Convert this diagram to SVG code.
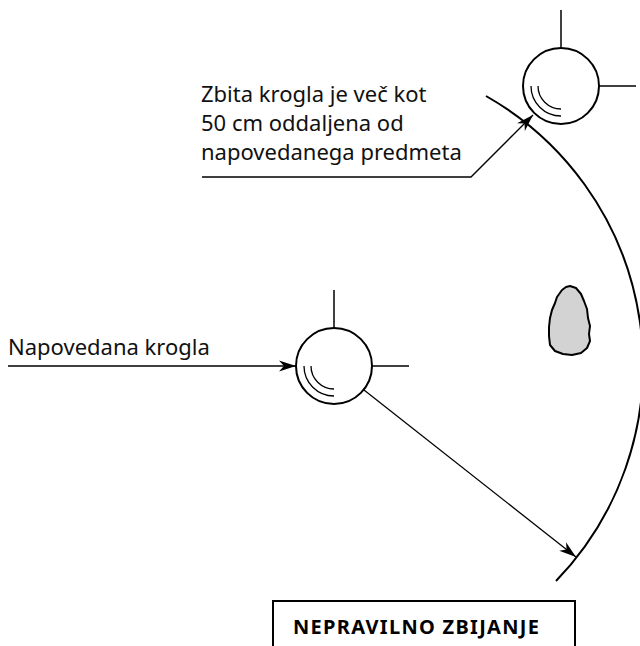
<svg xmlns="http://www.w3.org/2000/svg" width="640" height="646" viewBox="0 0 640 646">
  <defs>
    <style>
      .lbl { font-family: "Noto Sans", "Liberation Sans", sans-serif; font-size: 22px; fill: #111; }
      .title { font-family: "Noto Sans", "Liberation Sans", sans-serif; font-size: 20px; font-weight: bold; fill: #000; letter-spacing: 1.3px; }
      .ball { fill: #fff; stroke: #000; stroke-width: 2; }
      .shine { fill: none; stroke: #000; stroke-width: 1.3; }
      .tick { stroke: #000; stroke-width: 1.5; fill: none; }
      .lead { stroke: #000; stroke-width: 1.3; fill: none; }
      .ring { stroke: #000; stroke-width: 2; fill: none; }
    </style>
    <marker id="arrow" markerUnits="userSpaceOnUse" markerWidth="18" markerHeight="12" viewBox="0 0 18 12" refX="17" refY="6" orient="auto">
      <path d="M0,0.5 L17,6 L0,11.5 L5,6 Z" fill="#000"/>
    </marker>
  </defs>

  <!-- 50 cm radius around the called ball -->
  <path class="ring" d="M486,96 A310,310 0 0,1 556,581"/>

  <!-- object (stone) -->
  <g id="object">
    <path d="M570,286 L576,288 L581,294 L584,301 L587,309 L588,318 L590,326 L589,334 L590,341 L587,348 L581,353 L572,355 L563,354 L555,351 L550,345 L549,336 L549,327 L550,318 L552,310 L555,303 L557,297 L562,290 L566,287 Z" fill="#d3d3d3" stroke="#000" stroke-width="2" stroke-linejoin="round"/>
  </g>

  <!-- struck ball -->
  <g id="struck-ball">
    <line class="tick" x1="561" y1="10" x2="561" y2="48"/>
    <line class="tick" x1="599" y1="86" x2="636" y2="86"/>
    <circle class="ball" cx="561" cy="86" r="38"/>
    <path class="shine" d="M531,86 A30,30 0 0,0 561,116"/>
    <path class="shine" d="M538,86 A23,23 0 0,0 561,109"/>
  </g>

  <!-- called ball -->
  <g id="called-ball">
    <line class="tick" x1="334" y1="290" x2="334" y2="328"/>
    <line class="tick" x1="372" y1="366" x2="409" y2="366"/>
    <circle class="ball" cx="334" cy="366" r="38"/>
    <path class="shine" d="M304,366 A30,30 0 0,0 334,396"/>
    <path class="shine" d="M311,366 A23,23 0 0,0 334,389"/>
  </g>

  <!-- connectors -->
  <g id="connectors">
    <polyline class="lead" points="202,177 471,177 533,115" marker-end="url(#arrow)"/>
    <line class="lead" x1="8" y1="366" x2="296" y2="366" marker-end="url(#arrow)"/>
    <line class="lead" x1="364" y1="390" x2="576" y2="557" marker-end="url(#arrow)"/>
  </g>

  <!-- labels -->
  <g id="label-struck">
    <text class="lbl" x="201" y="102">Zbita krogla je več kot</text>
    <text class="lbl" x="201" y="131">50 cm oddaljena od</text>
    <text class="lbl" x="201" y="160">napovedanega predmeta</text>
  </g>
  <g id="label-called">
    <text class="lbl" x="8" y="355">Napovedana krogla</text>
  </g>

  <g id="title">
    <rect x="273" y="601" width="302" height="60" fill="#fff" stroke="#000" stroke-width="2"/>
    <text class="title" x="293" y="634">NEPRAVILNO ZBIJANJE</text>
  </g>
</svg>
